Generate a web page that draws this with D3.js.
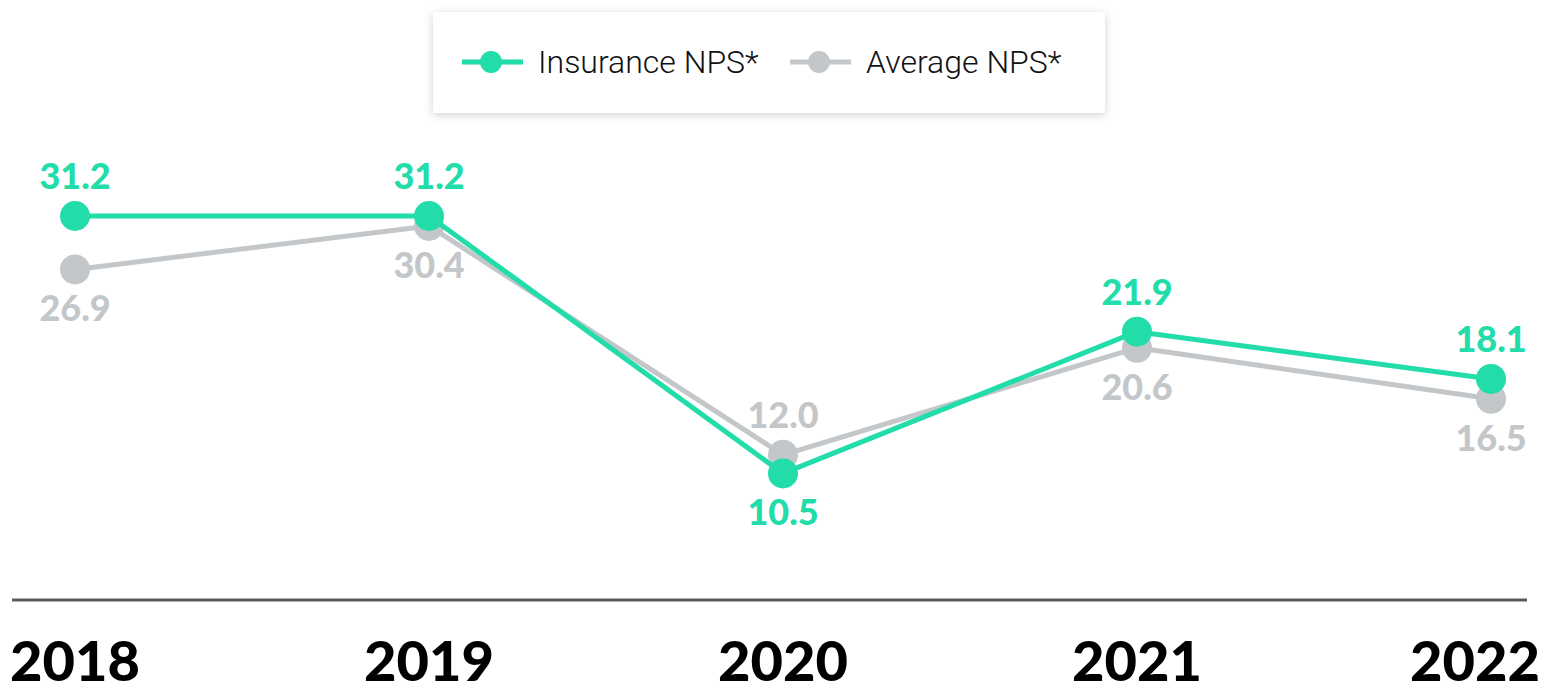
<!DOCTYPE html>
<html>
<head>
<meta charset="utf-8">
<script src="https://cdn.jsdelivr.net/npm/d3@7"></script>
<style>
  html, body { margin: 0; padding: 0; background: #ffffff; }
  svg { display: block; }
</style>
</head>
<body>
<svg id="chart" width="1545" height="693"></svg>
<script>
const years = ["2018", "2019", "2020", "2021", "2022"];
const insuranceNPS = [31.2, 31.2, 10.5, 21.9, 18.1];
const averageNPS = [26.9, 30.4, 12.0, 20.6, 16.5];
const insuranceLabelPos = ["above", "above", "below", "above", "above"];
const averageLabelPos = ["below", "below", "above", "below", "below"];
const seriesNames = ["Insurance NPS*", "Average NPS*"];

const GREEN = "#22dcaa", GREY = "#c3c7c9";
const svg = d3.select("#chart");

const x = d3.scalePoint().domain(years).range([75, 1491]);
const y = d3.scaleLinear().domain([0, 31.2]).range([604, 216]);

// baseline
svg.append("line")
  .attr("x1", 12).attr("x2", 1527)
  .attr("y1", 600).attr("y2", 600)
  .attr("stroke", "#585c60").attr("stroke-width", 3);

// year labels
svg.append("g").selectAll("text").data(years).join("text")
  .attr("x", d => Math.min(Math.max(x(d), 75), 1475))
  .attr("y", 681)
  .attr("text-anchor", "middle")
  .attr("font-family", "Lato, 'Liberation Sans', sans-serif")
  .attr("font-weight", 900)
  .attr("font-size", 56)
  .attr("fill", "#000")
  .text(d => d);

const line = d3.line().x((d, i) => x(years[i])).y(d => y(d));

function drawSeries(values, color) {
  const g = svg.append("g");
  g.append("path").datum(values)
    .attr("d", line)
    .attr("fill", "none")
    .attr("stroke", color)
    .attr("stroke-width", 5)
    .attr("stroke-linejoin", "round");
  g.selectAll("circle").data(values).join("circle")
    .attr("cx", (d, i) => x(years[i]))
    .attr("cy", d => y(d))
    .attr("r", 15)
    .attr("fill", color);
}
function drawLabels(values, color, pos) {
  svg.append("g").selectAll("text").data(values).join("text")
    .attr("x", (d, i) => x(years[i]))
    .attr("y", (d, i) => y(d) + (pos[i] === "above" ? -27 : 52))
    .attr("text-anchor", "middle")
    .attr("font-family", "Lato, 'Liberation Sans', sans-serif")
    .attr("font-weight", 900)
    .attr("font-size", 36)
    .attr("fill", color)
    .text(d => d.toFixed(1));
}

drawSeries(averageNPS, GREY);
drawSeries(insuranceNPS, GREEN);
drawLabels(averageNPS, GREY, averageLabelPos);
drawLabels(insuranceNPS, GREEN, insuranceLabelPos);

// legend
const defs = svg.append("defs");
const f = defs.append("filter").attr("id", "shadow")
  .attr("x", "-10%").attr("y", "-30%").attr("width", "120%").attr("height", "160%");
f.append("feDropShadow").attr("dx", 0).attr("dy", 2).attr("stdDeviation", 4)
  .attr("flood-color", "#000").attr("flood-opacity", 0.18);

const lg = svg.append("g");
lg.append("rect")
  .attr("x", 433).attr("y", 12).attr("width", 672).attr("height", 101)
  .attr("fill", "#fff").attr("filter", "url(#shadow)");

const legendItems = [
  { name: seriesNames[0], color: GREEN, x0: 462 },
  { name: seriesNames[1], color: GREY, x0: 790 }
];
legendItems.forEach(it => {
  lg.append("line")
    .attr("x1", it.x0).attr("x2", it.x0 + 61)
    .attr("y1", 62).attr("y2", 62)
    .attr("stroke", it.color).attr("stroke-width", 5);
  lg.append("circle")
    .attr("cx", it.x0 + 29).attr("cy", 62).attr("r", 11)
    .attr("fill", it.color);
  lg.append("text")
    .attr("x", it.x0 + 76).attr("y", 73)
    .attr("font-family", "Roboto, 'Liberation Sans', sans-serif")
    .attr("font-weight", 300)
    .attr("font-size", 32)
    .attr("fill", "#111")
    .text(it.name);
});
</script>
</body>
</html>
